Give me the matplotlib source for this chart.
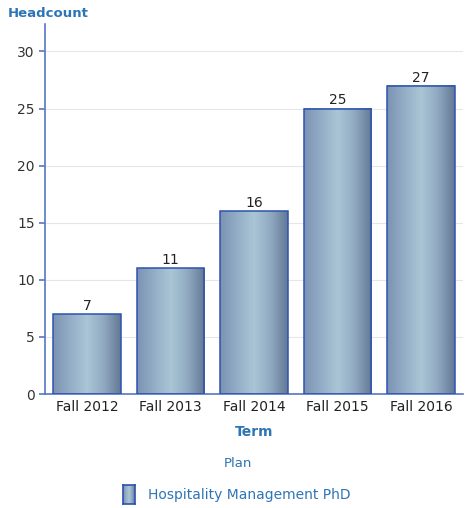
import matplotlib.pyplot as plt
import numpy as np
from matplotlib.colors import LinearSegmentedColormap

terms = ['Fall 2012', 'Fall 2013', 'Fall 2014', 'Fall 2015', 'Fall 2016']
headcount = [7, 11, 16, 25, 27]
series_name = 'Hospitality Management PhD'

blue_txt = '#2e75b6'
edge_col = '#2d52b0'
spine_col = '#5577c4'
grad = LinearSegmentedColormap.from_list(
    'bar', ['#7b93b2', '#93adc6', '#aac6d5', '#90a9c1', '#627894'])
gradient = np.linspace(0, 1, 256).reshape(1, -1)

fig = plt.figure(figsize=(4.66, 5.08), dpi=100)
ax = fig.add_axes([0.0966, 0.2244, 0.897, 0.7283])

x = np.arange(len(terms))
width = 0.81
bars = ax.bar(x, headcount, width=width, facecolor='none',
              edgecolor=edge_col, linewidth=1.1, zorder=3)
for rect, val in zip(bars, headcount):
    x0 = rect.get_x()
    ax.imshow(gradient, cmap=grad, aspect='auto', zorder=2,
              extent=[x0, x0 + width, 0, val], interpolation='bicubic')
    ax.text(rect.get_x() + width / 2, val + 0.1, str(val),
            ha='center', va='bottom', fontsize=10, color='#222222')

ax.set_xlim(-0.5, len(terms) - 0.5)
ax.set_ylim(0, 32.4)
ax.set_yticks(range(0, 31, 5))
ax.set_xticks(x)
ax.set_xticklabels(terms)
ax.tick_params(axis='y', colors=spine_col, labelcolor='#333333',
               labelsize=10, length=4, width=1.2)
ax.tick_params(axis='x', length=0, labelsize=10, labelcolor='#222222', pad=4)
ax.grid(axis='y', color='#e6e6e6', linewidth=0.8, zorder=0)
ax.set_axisbelow(True)
for s in ['top', 'right']:
    ax.spines[s].set_visible(False)
for s in ['left', 'bottom']:
    ax.spines[s].set_color(spine_col)
    ax.spines[s].set_linewidth(1.2)

ax.set_xlabel('Term', fontsize=10, fontweight='bold', color=blue_txt, labelpad=8)
fig.text(0.017, 0.974, 'Headcount', fontsize=9.5, fontweight='bold',
         color=blue_txt, ha='left', va='center')

# legend
fig.text(0.511, 0.087, 'Plan', fontsize=9.5, color=blue_txt, ha='center', va='center')
lax = fig.add_axes([123 / 466, 4 / 508, 12 / 466, 19 / 508])
lax.imshow(gradient, cmap=grad, aspect='auto', extent=[0, 1, 0, 1])
lax.set_xticks([])
lax.set_yticks([])
for s in lax.spines.values():
    s.set_color(edge_col)
    s.set_linewidth(1.2)
fig.text(148 / 466, 13.5 / 508, series_name, fontsize=10, color=blue_txt,
         ha='left', va='center')

fig.savefig('out.png', dpi=100)
